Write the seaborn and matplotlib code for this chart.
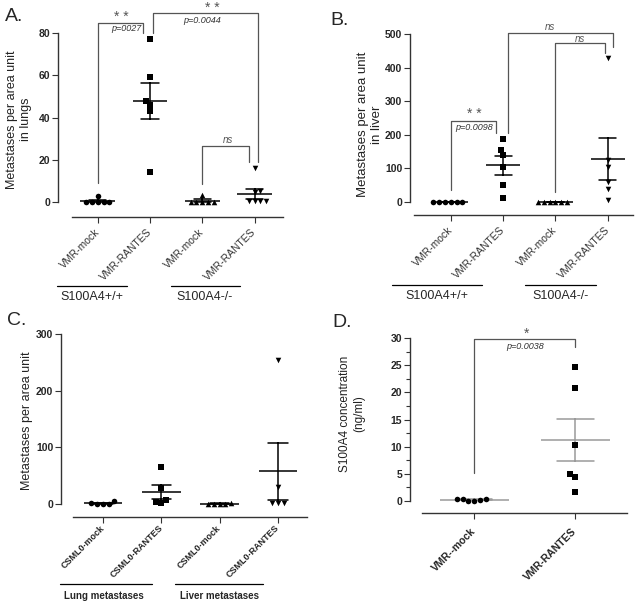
import numpy as np
import pandas as pd
import matplotlib
matplotlib.use("Agg")
import matplotlib.pyplot as plt
import matplotlib.transforms as mtrans
import seaborn as sns

# ---- data ----
# A: lung metastases
a_keys = ["wt_mock", "wt_rantes", "ko_mock", "ko_rantes"]
a_ticks = ["VMR-mock", "VMR-RANTES", "VMR-mock", "VMR-RANTES"]
a_wt_mock = [0.2, 0.0, 0.1, 0.0, 0.2, 2.9]
a_wt_rantes = [77, 59, 48, 46, 43, 14]
a_ko_mock = [0.0, 0.0, 0.1, 0.0, 0.2, 3.5]
a_ko_rantes = [16, 5, 4.5, 0.3, 0.3, 0.3, 0.3]

# B: liver metastases
b_keys = ["wt_mock", "wt_rantes", "ko_mock", "ko_rantes"]
b_ticks = ["VMR-mock", "VMR-RANTES", "VMR-mock", "VMR-RANTES"]
b_wt_mock = [0, 0, 0, 0, 0, 0]
b_wt_rantes = [188, 155, 140, 105, 52, 12]
b_ko_mock = [0, 0, 0, 0, 0, 0]
b_ko_rantes = [430, 125, 105, 60, 38, 5]

# C: CSML0 cells
c_keys = ["lung_mock", "lung_rantes", "liver_mock", "liver_rantes"]
c_ticks = ["CSML0-mock", "CSML0-RANTES", "CSML0-mock", "CSML0-RANTES"]
c_lung_mock = [5, 0.5, 0.5, 0.5, 1]
c_lung_rantes = [65, 28, 7, 1, 4]
c_liver_mock = [2, 0.3, 0.3, 0.3, 0.3]
c_liver_rantes = [255, 30, 1, 1, 1]

# D: serum S100A4
d_keys = ["mock", "rantes"]
d_ticks = ["VMR--mock", "VMR-RANTES"]
d_mock = [0.4, 0.25, 0.1, 0.1, 0.3, 0.45]
d_rantes = [24.6, 20.8, 10.3, 5.0, 4.5, 1.7]

sns.set_style("ticks")
plt.rcParams["font.family"] = ["Liberation Sans", "DejaVu Sans"]

W, H = 639, 605
fig = plt.figure(figsize=(W / 100, H / 100), dpi=100)


def px_axes(l, t, r, b):
    return fig.add_axes([l / W, 1 - b / H, (r - l) / W, (b - t) / H])


def panel(ax, keys, values, markers, err_color="black", cap=0.33, mean_w=0.33):
    df = pd.DataFrame({"group": np.repeat(keys, [len(v) for v in values]),
                       "value": np.concatenate(values)})
    for k, m in zip(keys, markers):
        sns.swarmplot(data=df[df.group == k], x="group", y="value", order=keys,
                      marker=m, color="black", size=4, ax=ax)
    sns.pointplot(data=df, x="group", y="value", order=keys, errorbar="se",
                  capsize=cap, color=err_color, linestyle="none", markersize=0,
                  err_kws={"linewidth": 1.1}, ax=ax)
    means = df.groupby("group")["value"].mean().reindex(keys)
    pos = np.arange(len(keys))
    ax.hlines(means.values, pos - mean_w, pos + mean_w, color=err_color, lw=1.1)


def style(ax, ticks, xlim, ylim, xb, yticks, tick_kw, ylabel, lab_x, lab_y, lab_fs,
          yfs=7.5):
    ax.set_xlim(*xlim)
    ax.set_ylim(*ylim)
    ax.set_xlabel("")
    ax.set_ylabel(ylabel, fontsize=lab_fs, color="#222222")
    ax.yaxis.set_label_coords(lab_x, lab_y)
    ax.set_yticks(yticks)
    ax.set_yticklabels([str(t) for t in yticks], fontsize=yfs, fontweight="bold")
    ax.set_xticks(range(len(ticks)))
    ax.set_xticklabels(ticks, rotation=45, ha="right", va="center",
                       rotation_mode="anchor", **tick_kw)
    for s in ["top", "right"]:
        ax.spines[s].set_visible(False)
    ax.spines["left"].set_bounds(0, yticks[-1])
    ax.spines["bottom"].set_bounds(*xb)
    for s in ["left", "bottom"]:
        ax.spines[s].set_linewidth(1.0)
        ax.spines[s].set_color("#333333")
    ax.tick_params(length=4, width=0.8, color="#333333")
    ax.tick_params(axis="x", pad=6)
    ax.tick_params(axis="y", pad=1.5)


def bracket(ax, x1, x2, y1, y2, top, star, star_xy, ptxt=None, p_xy=None, fs=10):
    ax.plot([x1, x1, x2, x2], [y1, top, top, y2], color="#555555", lw=0.9,
            clip_on=False)
    ax.text(star_xy[0], star_xy[1], star, ha="center", va="center",
            fontsize=fs, color="#555555", style="italic" if star == "ns" else "normal")
    if ptxt:
        ax.text(p_xy[0], p_xy[1], ptxt, ha="center", va="center",
                fontsize=6.5, style="italic", color="#333333")


def group_label(ax, x1, x2, y_line, y_txt, x_txt, txt, **kw):
    tr = mtrans.blended_transform_factory(ax.transData, ax.transAxes)
    ax.plot([x1, x2], [y_line, y_line], color="black", lw=0.9, transform=tr,
            clip_on=False)
    ax.text(x_txt, y_txt, txt, transform=tr, ha="center", va="center", **kw)


reg_tick = {"fontsize": 7.5, "color": "#333333"}

# ---- A ----
axA = px_axes(58, 33, 286, 217)
panel(axA, a_keys, [a_wt_mock, a_wt_rantes, a_ko_mock, a_ko_rantes], ["o", "s", "^", "v"])
style(axA, a_ticks, (-0.76, 3.6), (-7.1, 80), (-0.5, 3.54), [0, 20, 40, 60, 80],
      reg_tick, "Metastases per area unit\nin lungs", -0.114, 0.53, 9)
bracket(axA, 0, 0.87, 9, 80, 84.6, "* *", (0.46, 87.5), "p=0027", (0.54, 82))
bracket(axA, 1.05, 3.06, 80, 19, 89.4, "* *", (2.2, 92.0), "p=0.0044", (1.99, 85.8))
bracket(axA, 2.0, 2.9, 8.5, 19, 26.5, "ns", (2.49, 29.2), fs=7)
group_label(axA, -0.78, 0.55, -0.375, -0.435, -0.12, "S100A4+/+", fontsize=9)
group_label(axA, 1.41, 2.72, -0.375, -0.435, 2.05, "S100A4-/-", fontsize=9)

# ---- B ----
axB = px_axes(410, 34, 634, 215)
panel(axB, b_keys, [b_wt_mock, b_wt_rantes, b_ko_mock, b_ko_rantes], ["o", "s", "^", "v"])
style(axB, b_ticks, (-0.78, 3.5), (-38.7, 500), (-0.71, 3.48),
      [0, 100, 200, 300, 400, 500], reg_tick,
      "Metastases per area unit\nin liver", -0.12, 0.5, 9.5, yfs=7.5)
bracket(axB, 0, 0.87, 36, 205, 241, "* *", (0.44, 262), "p=0.0098", (0.44, 223))
bracket(axB, 1.1, 3.09, 205, 461, 503, "ns", (1.9, 522), fs=7)
bracket(axB, 2.0, 2.94, 30, 443, 473, "ns", (2.47, 484), fs=7)
group_label(axB, -1.12, 0.6, -0.387, -0.45, -0.27, "S100A4+/+", fontsize=9)
group_label(axB, 1.41, 2.77, -0.387, -0.45, 2.1, "S100A4-/-", fontsize=9)

# ---- C ----
axC = px_axes(61, 334, 310, 517)
panel(axC, c_keys, [c_lung_mock, c_lung_rantes, c_liver_mock, c_liver_rantes],
      ["o", "s", "^", "v"])
style(axC, c_ticks, (-0.72, 3.55), (-22.9, 300), (-0.51, 3.5), [0, 100, 200, 300],
      {"fontsize": 6.5, "fontweight": "bold"}, "Metastases per area unit",
      -0.112, 0.525, 9)
axC.tick_params(axis="x", pad=3)
group_label(axC, -0.74, 0.84, -0.366, -0.43, 0.02, "Lung metastases",
            fontsize=7, fontweight="bold")
group_label(axC, 1.23, 2.74, -0.366, -0.43, 2.0, "Liver metastases",
            fontsize=7, fontweight="bold")

# ---- D ----
axD = px_axes(410, 338, 631, 513)
panel(axD, d_keys, [d_mock, d_rantes], ["o", "s"], err_color="#9a9a9a",
      cap=0.36, mean_w=0.34)
style(axD, d_ticks, (-0.634, 1.55), (-2.2, 30), (-0.515, 1.515),
      [0, 5, 10, 15, 20, 25, 30], {"fontsize": 7.5, "fontweight": "bold"},
      "S100A4 concentration\n(ng/ml)", -0.204, 0.566, 8.5)
axD.set_yticks(np.arange(2.5, 30, 5), minor=True)
axD.tick_params(axis="y", which="minor", length=3, width=0.8, color="#333333")
axD.tick_params(axis="x", pad=8)
bracket(axD, 0, 1, 5.2, 28.3, 29.8, "*", (0.52, 30.8), "p=0.0038", (0.5, 28.4))

# panel letters
for lab, (x, y) in {"A.": (5, 8), "B.": (330, 12), "C.": (7, 312), "D.": (332, 314)}.items():
    fig.text(x / W, 1 - y / H, lab, fontsize=14, ha="left", va="top")

fig.savefig("out.png", dpi=100)
